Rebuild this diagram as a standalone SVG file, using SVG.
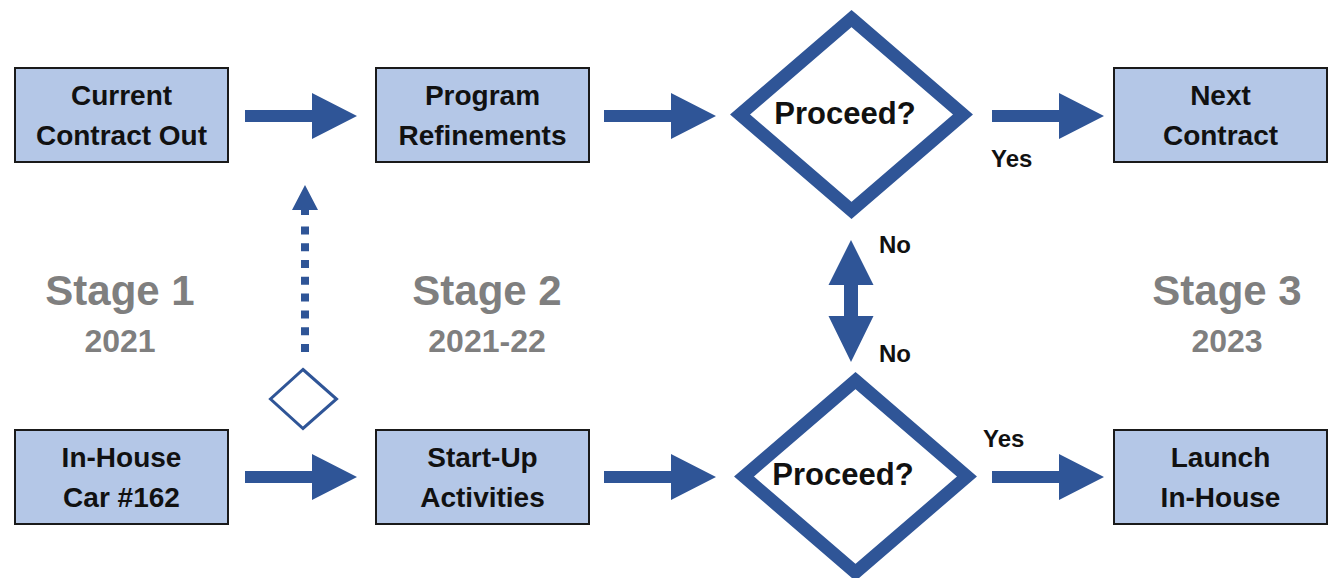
<svg xmlns="http://www.w3.org/2000/svg" width="1335" height="578" viewBox="0 0 1335 578">
  <style>
    text { font-family: "Liberation Sans", Arial, sans-serif; font-weight: bold; text-anchor: middle; }
    .box { fill: #B4C7E7; stroke: #1A1A1A; stroke-width: 2; }
    .boxtext { font-size: 28px; fill: #111111; }
    .decision { fill: #FFFFFF; stroke: #2F5597; stroke-width: 13; stroke-linejoin: miter; }
    .qtext { font-size: 31px; fill: #111111; }
    .flow { fill: #2F5597; }
    .label { font-size: 24px; fill: #111111; text-anchor: start; }
    .stage { font-size: 42px; fill: #7F7F7F; }
    .year { font-size: 32px; fill: #7F7F7F; }
  </style>

  <rect width="1335" height="578" fill="#FFFFFF"/>

  <!-- stage headings -->
  <g id="stage1">
    <text class="stage" x="120" y="305">Stage 1</text>
    <text class="year" x="120" y="352">2021</text>
  </g>
  <g id="stage2">
    <text class="stage" x="487" y="305">Stage 2</text>
    <text class="year" x="487" y="352">2021-22</text>
  </g>
  <g id="stage3">
    <text class="stage" x="1227" y="305">Stage 3</text>
    <text class="year" x="1227" y="352">2023</text>
  </g>

  <!-- connectors -->
  <g id="connectors">
    <!-- top row -->
    <path class="flow" d="M245 110 H312 V93 L357 116 L312 139 V122 H245 Z"/>
    <path class="flow" d="M604 110 H671 V93 L716 116 L671 139 V122 H604 Z"/>
    <path class="flow" d="M992 110 H1059 V93 L1104 116 L1059 139 V122 H992 Z"/>
    <!-- bottom row -->
    <path class="flow" d="M245 471 H312 V454 L357 477 L312 500 V483 H245 Z"/>
    <path class="flow" d="M604 471 H671 V454 L716 477 L671 500 V483 H604 Z"/>
    <path class="flow" d="M992 471 H1059 V454 L1104 477 L1059 500 V483 H992 Z"/>
    <!-- two-way link between the decisions -->
    <path class="flow" d="M851 240 L873.5 285 H858 V316 H873.5 L851 362 L828.5 316 H844 V285 H828.5 Z"/>
    <!-- dotted upward link from the small diamond -->
    <line x1="305" y1="352" x2="305" y2="226.4" stroke="#2F5597" stroke-width="8" stroke-dasharray="8 8.8"/>
    <path class="flow" d="M305 185 L318 210 H309 V215 H301 V210 H292 Z"/>
    <polygon points="303,369.5 336.5,399 303,428.5 270.5,399" fill="#FFFFFF" stroke="#2F5597" stroke-width="3"/>
    <!-- labels -->
    <text class="label" x="991" y="167">Yes</text>
    <text class="label" x="983" y="447">Yes</text>
    <text class="label" x="879" y="253">No</text>
    <text class="label" x="879" y="362">No</text>
  </g>

  <!-- top row nodes -->
  <g id="current-contract-out">
    <rect class="box" x="15" y="68" width="213" height="94"/>
    <text class="boxtext" x="121.5" y="105">Current</text>
    <text class="boxtext" x="121.5" y="145">Contract Out</text>
  </g>
  <g id="program-refinements">
    <rect class="box" x="376" y="68" width="213" height="94"/>
    <text class="boxtext" x="482.5" y="105">Program</text>
    <text class="boxtext" x="482.5" y="145">Refinements</text>
  </g>
  <g id="proceed-top">
    <polygon class="decision" points="851.5,18.5 963,114.5 851.5,210.5 740,114.5"/>
    <text class="qtext" x="845" y="124">Proceed?</text>
  </g>
  <g id="next-contract">
    <rect class="box" x="1114" y="68" width="213" height="94"/>
    <text class="boxtext" x="1220.5" y="105">Next</text>
    <text class="boxtext" x="1220.5" y="145">Contract</text>
  </g>

  <!-- bottom row nodes -->
  <g id="in-house-car">
    <rect class="box" x="15" y="430" width="213" height="94"/>
    <text class="boxtext" x="121.5" y="467">In-House</text>
    <text class="boxtext" x="121.5" y="507">Car #162</text>
  </g>
  <g id="start-up-activities">
    <rect class="box" x="376" y="430" width="213" height="94"/>
    <text class="boxtext" x="482.5" y="467">Start-Up</text>
    <text class="boxtext" x="482.5" y="507">Activities</text>
  </g>
  <g id="proceed-bottom">
    <polygon class="decision" points="855.5,380.5 967,476.5 855.5,572.5 744,476.5"/>
    <text class="qtext" x="843" y="485">Proceed?</text>
  </g>
  <g id="launch-in-house">
    <rect class="box" x="1114" y="430" width="213" height="94"/>
    <text class="boxtext" x="1220.5" y="467">Launch</text>
    <text class="boxtext" x="1220.5" y="507">In-House</text>
  </g>
</svg>
